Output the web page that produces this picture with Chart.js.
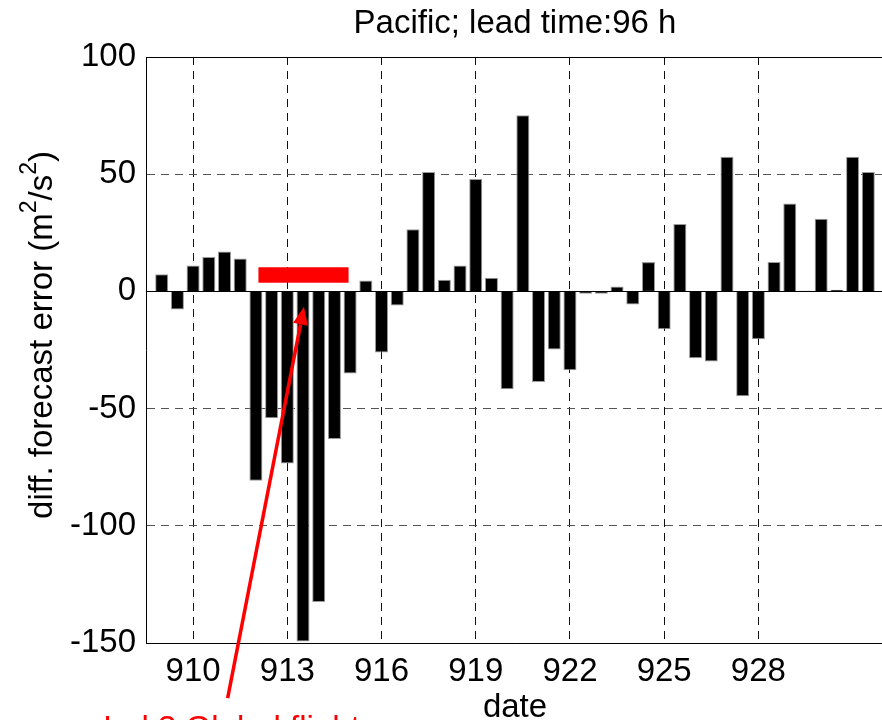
<!DOCTYPE html>
<html>
<head>
<meta charset="utf-8">
<title>Pacific; lead time:96 h</title>
<script src="https://cdn.jsdelivr.net/npm/chart.js@4.4.1/dist/chart.umd.min.js"></script>
<style>
  html, body { margin: 0; padding: 0; overflow: hidden; background: #fff; }
  #wrap { width: 884px; height: 750px; }
</style>
</head>
<body>
<div id="wrap"><canvas id="myChart" width="884" height="750"></canvas></div>
<script>
// dates (day number), half-day steps
const dates = [
  909, 909.5, 910, 910.5, 911, 911.5, 912, 912.5, 913, 913.5,
  914, 914.5, 915, 915.5, 916, 916.5, 917, 917.5, 918, 918.5,
  919, 919.5, 920, 920.5, 921, 921.5, 922, 922.5, 923, 923.5,
  924, 924.5, 925, 925.5, 926, 926.5, 927, 927.5, 928, 928.5,
  929, 929.5, 930, 930.5, 931, 931.5
];
// diff. forecast error (m2/s2)
const diffError = [
  7.3, -7.7, 11, 14.7, 17, 14, -80.8, -54.1, -73.4, -149.4,
  -132.5, -63, -35, 4.6, -26.1, -6, 26.5, 50.9, 5, 11,
  48, 5.8, -41.7, 75.2, -38.7, -24.8, -33.6, -1, -1, 2.1,
  -5.6, 12.5, -16.2, 28.8, -28.5, -29.9, 57.4, -44.7, -20.4, 12.5,
  37.5, 0.3, 31, 0.7, 57.4, 50.9
];
const xTickValues = [910, 913, 916, 919, 922, 925, 928];
const yTickValues = [-150, -100, -50, 0, 50, 100];

const fontFamily = "'Liberation Sans', Arial, sans-serif";
const mainFont = { family: fontFamily, size: 33, weight: 'normal' };

// red marks: flight period bar, arrow and caption
const redMarks = {
  id: 'redMarks',
  afterDatasetsDraw(chart) {
    const { ctx, chartArea, scales: { x, y } } = chart;
    ctx.save();
    // bar baseline at zero
    const y0 = Math.round(y.getPixelForValue(0)) + 0.5;
    ctx.strokeStyle = '#000';
    ctx.lineWidth = 1;
    ctx.beginPath();
    ctx.moveTo(chartArea.left, y0);
    ctx.lineTo(chartArea.right, y0);
    ctx.stroke();

    // red period bar
    ctx.fillStyle = '#ff0000';
    const rx1 = x.getPixelForValue(912.08), rx2 = x.getPixelForValue(914.95);
    const ry1 = y.getPixelForValue(10.3), ry2 = y.getPixelForValue(3.7);
    ctx.fillRect(rx1, ry1, rx2 - rx1, ry2 - ry1);

    // red arrow
    const tx = x.getPixelForValue(911.1), ty = y.getPixelForValue(-173.5);
    const hx = x.getPixelForValue(913.53), hy = y.getPixelForValue(-6.5);
    const ang = Math.atan2(hy - ty, hx - tx);
    const headLen = 18, headHalf = 7.5;
    const bx = hx - headLen * Math.cos(ang), by = hy - headLen * Math.sin(ang);
    ctx.strokeStyle = '#ff0000';
    ctx.lineWidth = 3.5;
    ctx.beginPath();
    ctx.moveTo(tx, ty);
    ctx.lineTo(bx, by);
    ctx.stroke();
    ctx.beginPath();
    ctx.moveTo(hx, hy);
    ctx.lineTo(bx + headHalf * Math.sin(ang), by - headHalf * Math.cos(ang));
    ctx.lineTo(bx - headHalf * Math.sin(ang), by + headHalf * Math.cos(ang));
    ctx.closePath();
    ctx.fill();
    ctx.restore();
  },
  afterDraw(chart) {
    const { ctx, chartArea } = chart;
    ctx.save();
    // top box line
    ctx.strokeStyle = '#000';
    ctx.lineWidth = 1;
    ctx.beginPath();
    ctx.moveTo(chartArea.left, Math.round(chartArea.top) + 0.5);
    ctx.lineTo(chartArea.right, Math.round(chartArea.top) + 0.5);
    ctx.stroke();

    // y axis label with superscripts
    const big = '33px ' + fontFamily, small = '23px ' + fontFamily;
    const parts = [
      ['diff. forecast error (m', big, 0],
      ['2', small, -13],
      ['/s', big, 0],
      ['2', small, -13],
      [')', big, 0]
    ];
    let total = 0;
    parts.forEach(p => { ctx.font = p[1]; total += ctx.measureText(p[0]).width; });
    ctx.translate(43, 335);
    ctx.rotate(-Math.PI / 2);
    ctx.fillStyle = '#000';
    ctx.textBaseline = 'middle';
    ctx.textAlign = 'left';
    let cx = -total / 2;
    parts.forEach(p => {
      ctx.font = p[1];
      ctx.fillText(p[0], cx, p[2]);
      cx += ctx.measureText(p[0]).width;
    });
    ctx.restore();

    // red caption (cut off at bottom of the picture)
    ctx.save();
    ctx.fillStyle = '#ff0000';
    ctx.font = big;
    ctx.textBaseline = 'alphabetic';
    ctx.textAlign = 'left';
    ctx.fillText('Ind 3 Global flights', 103, 739);
    ctx.restore();
  }
};

const ctx = document.getElementById('myChart');
new Chart(ctx, {
  type: 'bar',
  data: {
    datasets: [{
      data: dates.map((d, i) => ({ x: d, y: diffError[i] })),
      backgroundColor: '#000',
      borderColor: '#9a9a9a',
      borderWidth: 1,
      barPercentage: 0.83,
      categoryPercentage: 1.0
    }]
  },
  options: {
    responsive: false,
    animation: false,
    layout: { padding: 0 },
    plugins: {
      legend: { display: false },
      tooltip: { enabled: false },
      title: {
        display: true,
        text: 'Pacific; lead time:96 h',
        fullSize: false,
        color: '#000',
        font: mainFont,
        padding: { top: 4, bottom: 13.4 }
      }
    },
    scales: {
      x: {
        type: 'linear',
        min: 908.5,
        max: 932,
        offset: false,
        afterBuildTicks: s => { s.ticks = xTickValues.map(v => ({ value: v })); },
        afterFit: s => { s.height = 107; },
        grid: { color: '#111', lineWidth: 1, drawTicks: false, offset: false },
        border: { display: true, color: '#000', width: 1, dash: [8, 6] },
        ticks: { color: '#000', font: mainFont, padding: 9, autoSkip: false, maxRotation: 0 },
        title: { display: true, text: 'date', color: '#000', font: mainFont, padding: { top: 0, bottom: 22 } }
      },
      y: {
        min: -150,
        max: 100,
        afterBuildTicks: s => { s.ticks = yTickValues.map(v => ({ value: v })); },
        afterFit: s => { s.width = 146; },
        grid: { color: '#555', lineWidth: 1, drawTicks: false },
        border: { display: true, color: '#000', width: 1, dash: [8, 6] },
        ticks: { color: '#000', font: mainFont, padding: 10 }
      }
    }
  },
  plugins: [redMarks]
});
</script>
</body>
</html>
